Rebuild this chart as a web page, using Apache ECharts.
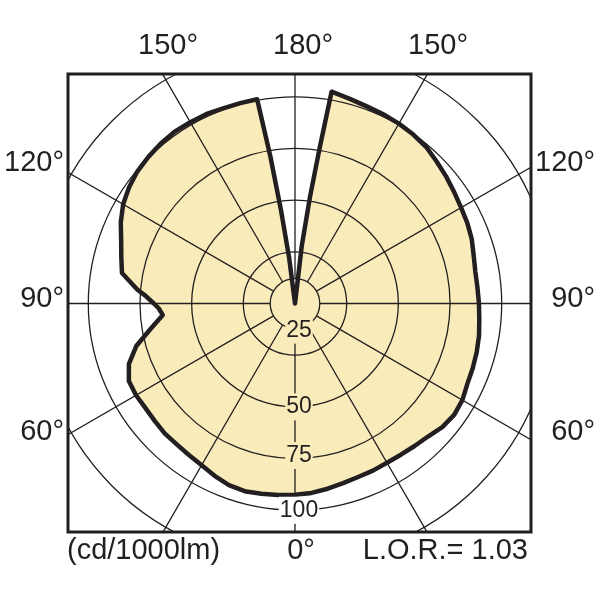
<!DOCTYPE html>
<html><head><meta charset="utf-8">
<script src="https://cdn.jsdelivr.net/npm/echarts@6/dist/echarts.min.js"></script>
<style>html,body{margin:0;padding:0;background:#fff}#c{width:600px;height:600px}</style>
</head><body><div id="c"></div>
<script>
// Luminous intensity distribution (cd/1000lm); angle measured from nadir (0°) to zenith (180°)
const leftAngles  = [0,5,10,15,20,25,30,35,40,45,50,55,60,65,70,75,80,85,88,90,93,95,100,105,110,115,120,125,130,135,140,145,150,155,160,165,169.5,170.5,171.5,172.7,180];
const leftValues  = [92.5,93,93.5,94,93.5,92,90.3,89.5,89,89,88.5,88.3,88.8,88.7,85.5,79.5,71,64.2,66,68.3,72.5,76.5,85,87,89.5,93,96,98,99.5,100.3,101,101.5,101.3,101.2,100.6,100.5,100.5,72,45,22,0];
const rightAngles = [0,5,10,15,20,25,30,35,40,45,50,55,60,65,70,75,80,85,90,95,100,105,110,115,120,125,130,135,140,145,150,155,160,165,170.2,171,172,173.3,180];
const rightValues = [92.5,92,91,90,89.3,89.2,89,89.3,90,91,93,94,93.5,92,91.5,91,90.4,89.5,89,88.6,88.6,89.5,91,92,92.8,94,95.5,97,98.8,99.8,100.5,101,101.5,102.5,104,76,52,28,0];
const radialTicks = [25, 50, 75, 100];
const radialTickLabels = ['25', '50', '75', '100'];
const topLabels = ['150°', '180°', '150°'];
const leftLabels = ['120°', '90°', '60°'];
const rightLabels = ['120°', '90°', '60°'];
const bottomLabels = ['(cd/1000lm)', '0°', 'L.O.R.= 1.03'];

const INK = '#231F20', FILL = '#FAEBBB', FONT = '"Liberation Sans", Arial, sans-serif';
const CX = 295, CY = 303.5, PX_PER_UNIT = 2.067;
const FRAME = {x: 68, y: 74, w: 463, h: 458};

// Build closed outline: left half (0→180) then right half (180→360)
const curve = [];
leftAngles.forEach((a, i) => curve.push([leftValues[i], a]));
for (let i = rightAngles.length - 2; i >= 0; i--) curve.push([rightValues[i], 360 - rightAngles[i]]);

const gridLine = {show: true, lineStyle: {color: INK, width: 1.3}};
const hidden = {axisLine: {show: false}, axisTick: {show: false}, axisLabel: {show: false}};

const labelOffsets = [[4, -25], [4, 0], [4, -3], [4, 0]];
const labelData = radialTicks.map((v, i) => ({
  value: [v, 0],
  label: {
    formatter: radialTickLabels[i],
    offset: labelOffsets[i],
    backgroundColor: i < 3 ? FILL : '#ffffff'
  }
}));

function txt(text, x, y, align) {
  return {type: 'text', x: x, y: y, z: 120, silent: true,
    style: {text: text, fill: INK, font: '29px ' + FONT, align: align, verticalAlign: 'middle'}};
}

const graphics = [
  {type: 'rect', z: 100, silent: true, shape: {x: 0, y: 0, width: 600, height: FRAME.y}, style: {fill: '#fff'}},
  {type: 'rect', z: 100, silent: true, shape: {x: 0, y: FRAME.y + FRAME.h, width: 600, height: 600}, style: {fill: '#fff'}},
  {type: 'rect', z: 100, silent: true, shape: {x: 0, y: 0, width: FRAME.x, height: 600}, style: {fill: '#fff'}},
  {type: 'rect', z: 100, silent: true, shape: {x: FRAME.x + FRAME.w, y: 0, width: 600, height: 600}, style: {fill: '#fff'}},
  {type: 'rect', z: 110, silent: true, shape: {x: FRAME.x, y: FRAME.y, width: FRAME.w, height: FRAME.h}, style: {fill: null, stroke: INK, lineWidth: 3}},
  txt(topLabels[0], 168, 46, 'center'),
  txt(topLabels[1], 303, 46, 'center'),
  txt(topLabels[2], 438, 46, 'center'),
  txt(leftLabels[0], 64, 163, 'right'),
  txt(leftLabels[1], 64, 299, 'right'),
  txt(leftLabels[2], 64, 432, 'right'),
  txt(rightLabels[0], 595, 163, 'right'),
  txt(rightLabels[1], 595, 299, 'right'),
  txt(rightLabels[2], 595, 432, 'right'),
  txt(bottomLabels[0], 67, 551, 'left'),
  txt(bottomLabels[1], 301, 551, 'center'),
  txt(bottomLabels[2], 528, 551, 'right')
];

const chart = echarts.init(document.getElementById('c'), null, {renderer: 'canvas'});
chart.setOption({
  animation: false,
  backgroundColor: '#ffffff',
  polar: [
    {center: [CX, CY], radius: [12 * PX_PER_UNIT, 340]},
    {center: [CX, CY], radius: [0, 125 * PX_PER_UNIT]}
  ],
  angleAxis: [
    Object.assign({polarIndex: 0, type: 'value', min: 0, max: 360, interval: 30, startAngle: 270, clockwise: true, z: 3, splitLine: gridLine}, hidden),
    Object.assign({polarIndex: 1, type: 'value', min: 0, max: 360, interval: 30, startAngle: 270, clockwise: true, z: 3, splitLine: {show: false}}, hidden)
  ],
  radiusAxis: [
    Object.assign({polarIndex: 0, type: 'value', min: 0, max: 1, interval: 1, z: 3, splitLine: gridLine}, hidden),
    Object.assign({polarIndex: 1, type: 'value', min: 0, max: 125, interval: 25, z: 3, splitLine: gridLine}, hidden)
  ],
  series: [
    {type: 'line', coordinateSystem: 'polar', polarIndex: 1, data: curve, symbol: 'none', silent: true, clip: false,
      lineStyle: {width: 0, opacity: 0}, areaStyle: {color: FILL, opacity: 1}, z: 1},
    {type: 'line', coordinateSystem: 'polar', polarIndex: 1, data: curve, symbol: 'none', silent: true, clip: false,
      lineStyle: {width: 4.5, color: INK, join: 'round'}, z: 5},
    {type: 'scatter', coordinateSystem: 'polar', polarIndex: 1, data: labelData, symbolSize: 1, silent: true,
      itemStyle: {color: 'rgba(0,0,0,0)', opacity: 1}, z: 6,
      label: {show: true, position: 'inside', color: INK, opacity: 1, fontSize: 23, fontFamily: FONT, padding: [3, 1, 1, 1]}}
  ],
  graphic: graphics
});
</script></body></html>
